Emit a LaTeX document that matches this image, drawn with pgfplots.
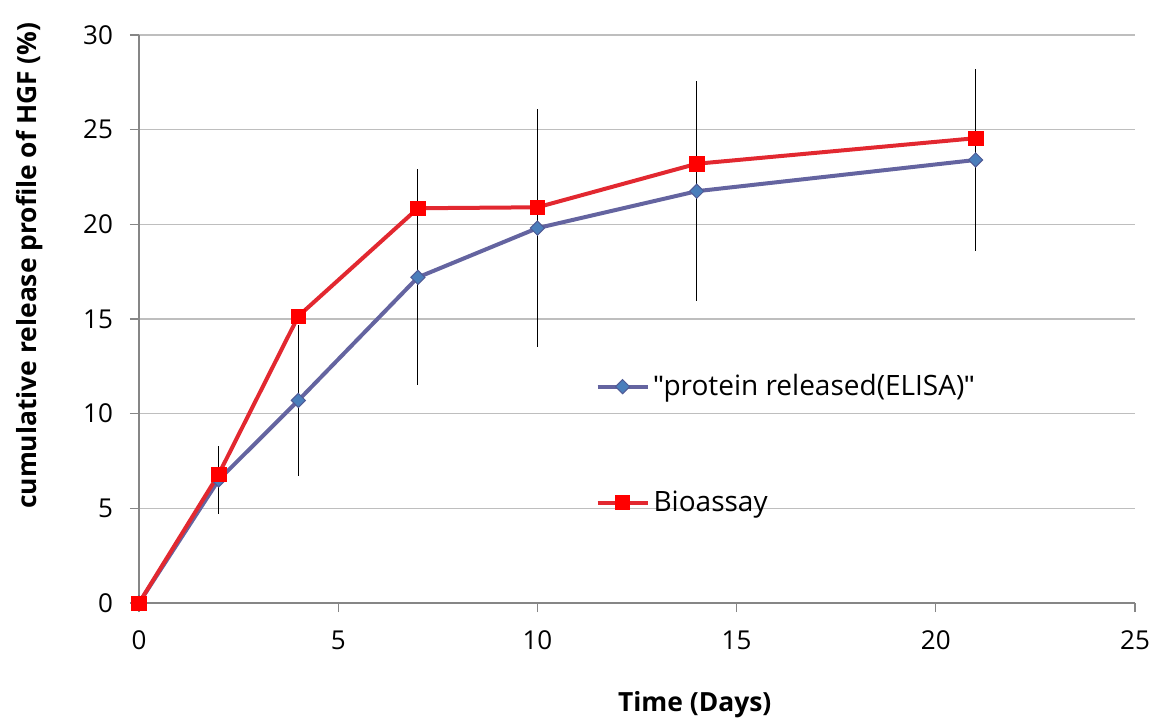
\documentclass[border=0pt]{standalone}
\usepackage{fontspec}
\setmainfont{Open Sans}
\newfontfamily\quotefont{Liberation Sans}
\usepackage{pgfplots}
\pgfplotsset{compat=1.18}
\definecolor{elisaline}{RGB}{100,100,160}
\definecolor{elisamark}{RGB}{74,126,187}
\definecolor{elisaedge}{RGB}{80,90,150}
\definecolor{bioline}{RGB}{226,40,48}
\definecolor{biomark}{RGB}{255,0,0}
\definecolor{gridgray}{RGB}{190,190,190}
\definecolor{axisgray}{RGB}{134,134,134}
\newcommand{\dq}{{\quotefont\symbol{34}}}
\begin{document}
\begin{tikzpicture}
\useasboundingbox (-69.5pt,-59.5pt) rectangle (508pt,301.5pt);
\begin{axis}[
  at={(0,0)}, anchor=south west,
  scale only axis, width=498pt, height=284pt,
  xmin=0, xmax=25, ymin=0, ymax=30,
  xtick={0,5,...,25}, ytick={0,5,...,30},
  axis x line*=bottom, axis y line*=left,
  axis line style={axisgray, line width=0.6pt, -},
  tick style={axisgray, line width=0.6pt},
  tick align=outside, major tick length=4.5pt,
  ymajorgrids, grid style={gridgray, line width=0.6pt},
  /pgf/number format/assume math mode=true,
  ticklabel style={font=\fontsize{13}{15}\selectfont},
  xticklabel style={yshift=-6pt},
  yticklabel style={xshift=-5pt},
  xlabel={\fontsize{13.2}{16}\selectfont\bfseries Time (Days)},
  ylabel={\fontsize{13.2}{16}\selectfont\bfseries cumulative release profile of HGF (\%)},
  every axis x label/.style={at={(rel axis cs:0.558,0)}, anchor=center, yshift=-51pt},
  every axis y label/.style={at={(rel axis cs:0,0.594)}, anchor=center, rotate=90, yshift=54.5pt},
  legend style={at={(axis cs:11.45,12.3)}, anchor=north west, draw=none, fill=none,
    font=\fontsize{14}{16}\selectfont, row sep=42pt, inner sep=0pt,
    nodes={inner sep=2pt}},
  legend cell align=left,
  legend image code/.code={\draw[mark repeat=2,mark phase=2,#1] plot coordinates {(0pt,0pt)(12.5pt,0pt)(25pt,0pt)};},
]
\addplot[elisaline, line width=2pt, mark=square*, mark size=2.5pt,
  mark options={rotate=45, fill=elisamark, draw=elisaedge, line width=0.5pt},
  error bars/.cd, y dir=both, y explicit, error bar style={black, line width=0.6pt}, error mark=none]
  coordinates {(0,0) +- (0,0) (2,6.5) +- (0,1.8) (4,10.7) +- (0,4.0) (7,17.2) +- (0,5.7) (10,19.8) +- (0,6.3) (14,21.75) +- (0,5.8) (21,23.4) +- (0,4.8)};
\addlegendentry{\dq protein released(ELISA)\dq}
\addplot[bioline, line width=2pt, mark=square*, mark size=3.6pt,
  mark options={fill=biomark, draw=biomark, line width=0.3pt}]
  coordinates {(0,0) (2,6.8) (4,15.15) (7,20.85) (10,20.9) (14,23.2) (21,24.55)};
\addlegendentry{Bioassay}
\addplot[draw=none, mark=none, forget plot,
  error bars/.cd, y dir=both, y explicit, error bar style={black, line width=0.6pt}, error mark=none]
  coordinates {(7,17.2) +- (0,5.7) (10,19.8) +- (0,6.3) (14,21.75) +- (0,5.8) (21,23.4) +- (0,4.8)};
\end{axis}
\end{tikzpicture}
\end{document}
